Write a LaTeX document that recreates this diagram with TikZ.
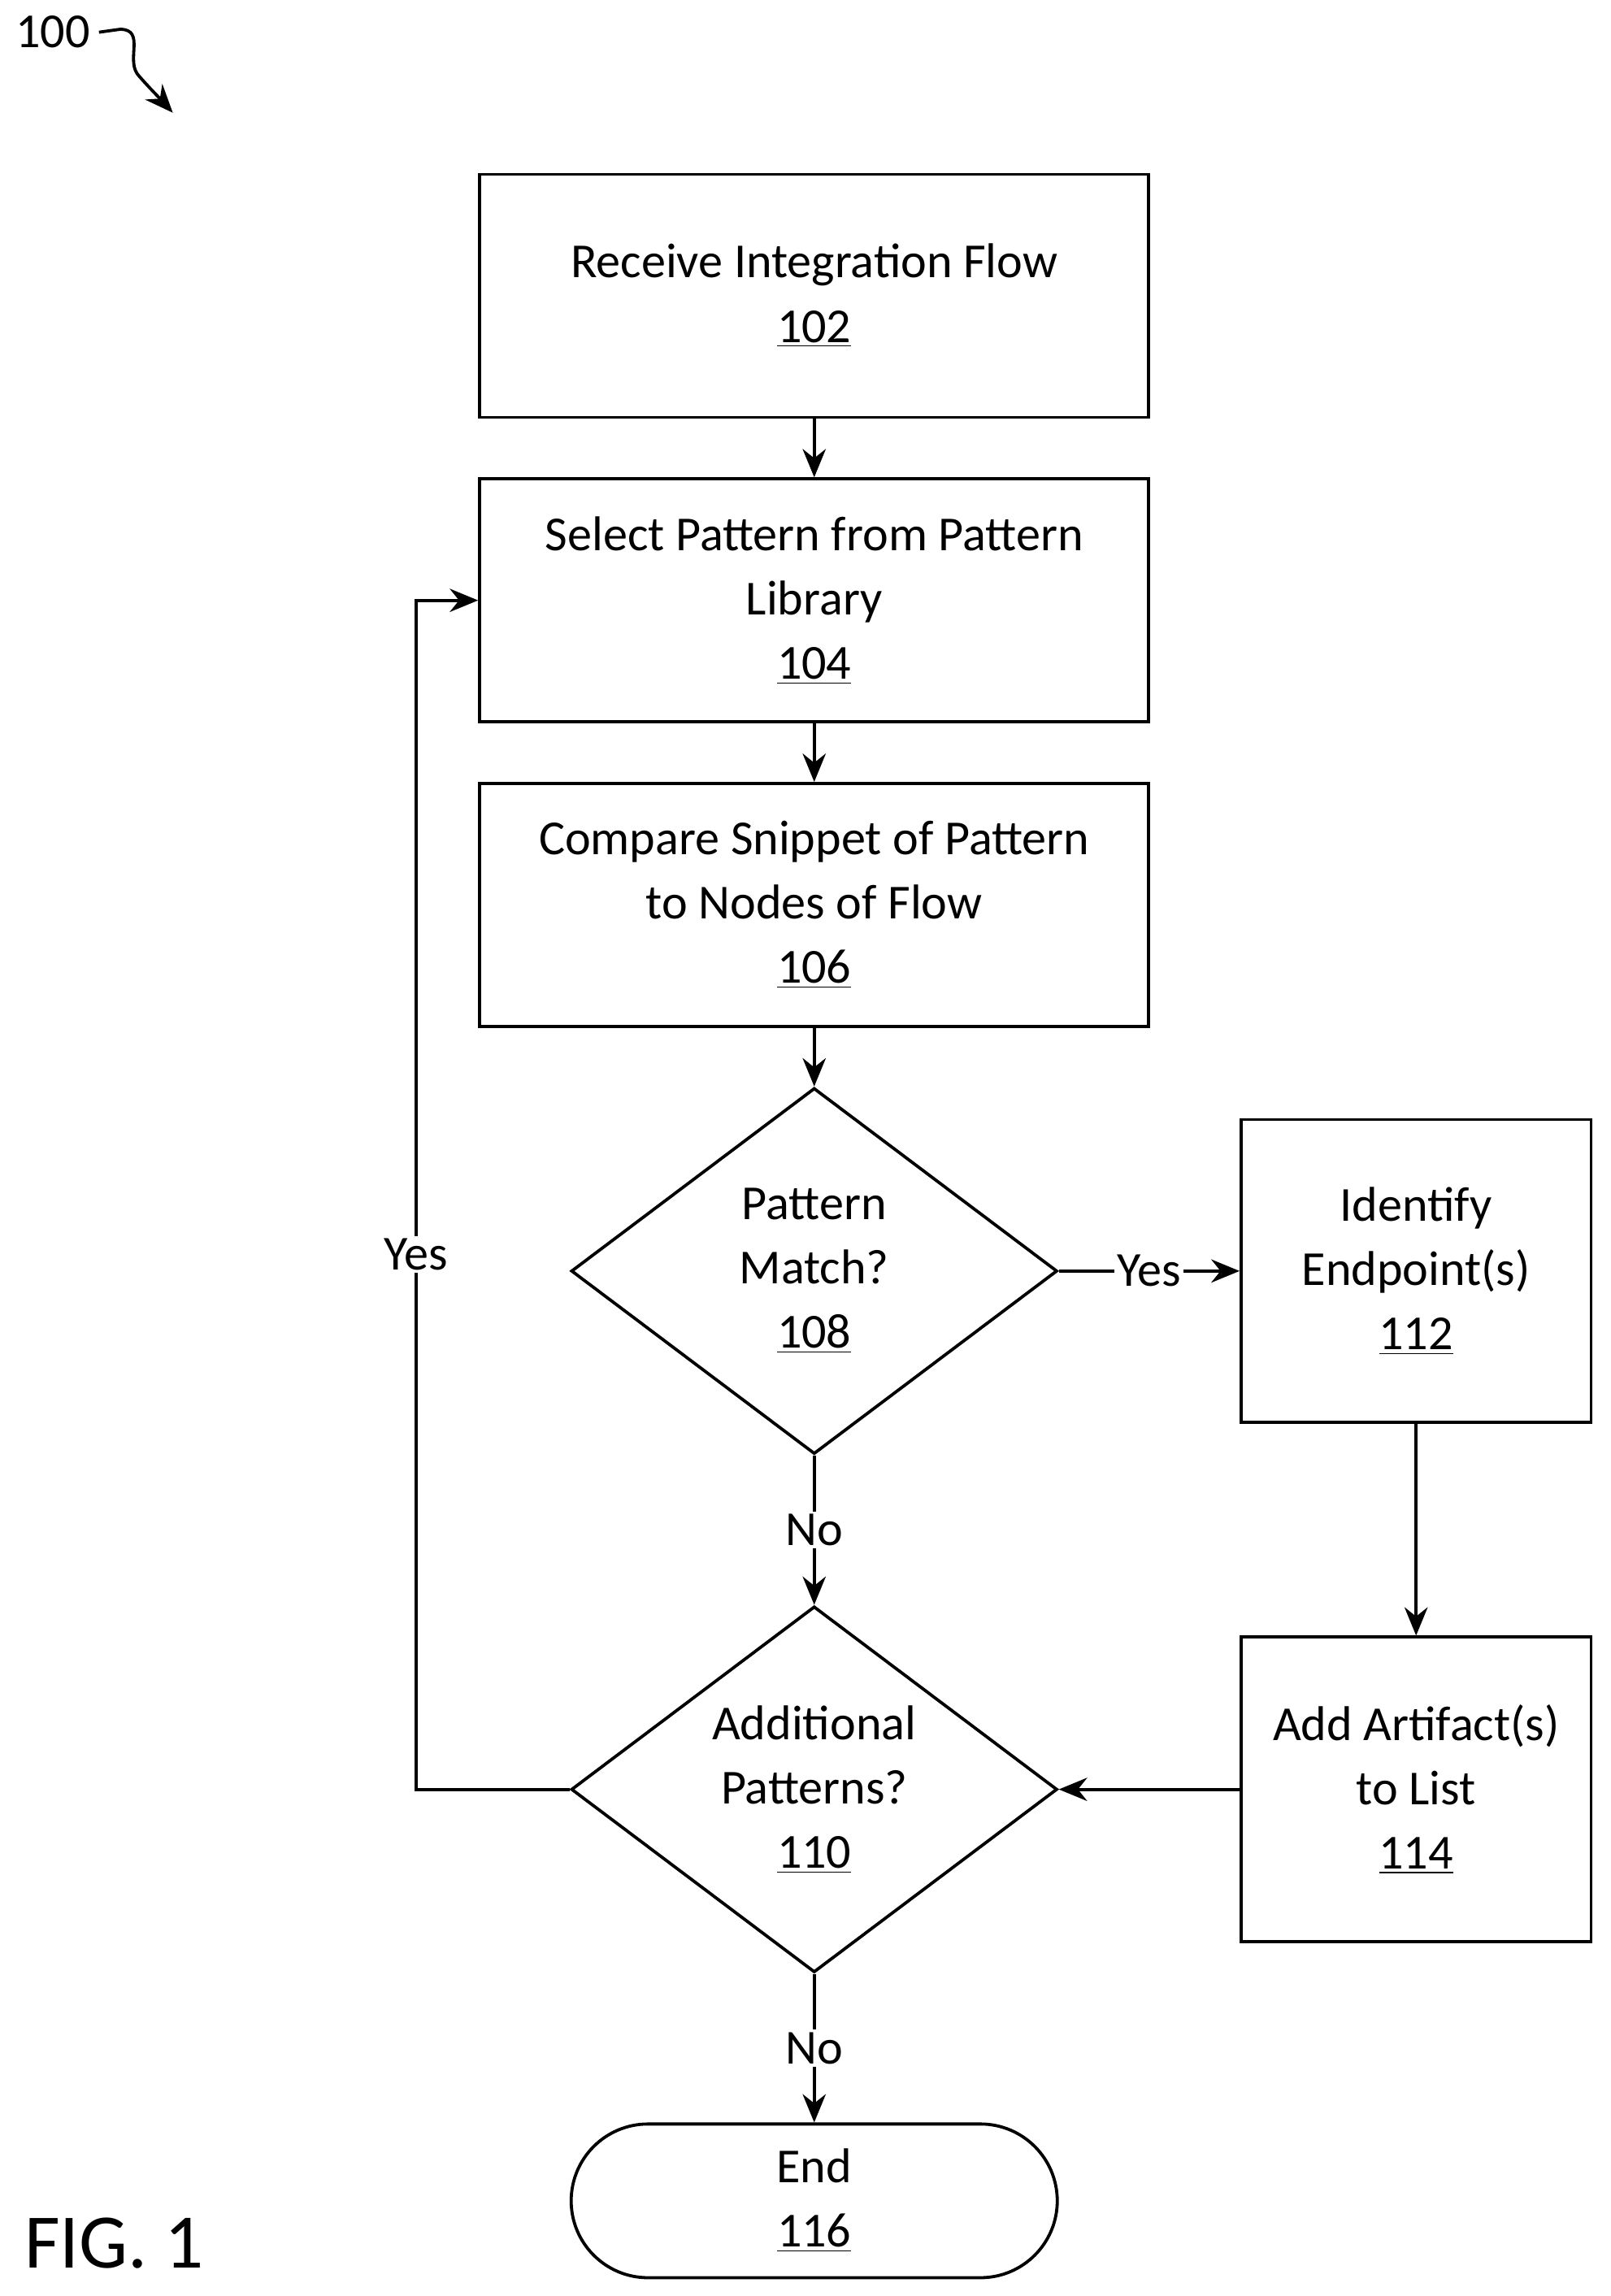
\documentclass[tikz,border=0pt]{standalone}
\usepackage{fontspec}
\setmainfont{Carlito}
\usetikzlibrary{shapes.geometric,arrows.meta}
\begin{document}
\begin{tikzpicture}[x=0.02cm,y=-0.02cm,
  every node/.style={font=\fontsize{19}{25}\selectfont,align=center},
  box/.style={draw,line width=1.2pt,rectangle,inner sep=0pt},
  dia/.style={draw,line width=1.2pt,diamond,inner sep=0pt,minimum width=6.64cm,minimum height=5cm},
  arr/.style={line width=1.2pt,-{Stealth[length=11pt,width=9pt]}},
  lbl/.style={fill=white,inner sep=1pt}]
\useasboundingbox (0,0) rectangle (1100,1568);
\node[box,minimum width=9.14cm,minimum height=3.32cm] (b102) at (556,202) {Receive Integration Flow\\\underline{102}};
\node[box,minimum width=9.14cm,minimum height=3.32cm] (b104) at (556,410) {Select Pattern from Pattern\\Library\\\underline{104}};
\node[box,minimum width=9.14cm,minimum height=3.32cm] (b106) at (556,618) {Compare Snippet of Pattern\\to Nodes of Flow\\\underline{106}};
\node[dia] (d108) at (556,868) {};
\node at (556,868) {Pattern\\Match?\\\underline{108}};
\node[box,minimum width=4.78cm,minimum height=4.14cm] (b112) at (967,868) {Identify\\Endpoint(s)\\\underline{112}};
\node[dia] (d110) at (556,1222) {};
\node at (556,1222) {Additional\\Patterns?\\\underline{110}};
\node[box,minimum width=4.78cm,minimum height=4.16cm] (b114) at (967,1222) {Add Artifact(s)\\to List\\\underline{114}};
\node[box,minimum width=6.64cm,minimum height=2.1cm,rounded corners=1.05cm] (e116) at (556,1503) {End\\\underline{116}};
\draw[arr] (b102) -- (b104);
\draw[arr] (b104) -- (b106);
\draw[arr] (b106) -- (d108);
\draw[arr] (d108.east) -- node[lbl]{Yes} (b112.west);
\draw[arr] (d108.south) -- node[lbl]{No} (d110.north);
\draw[arr] (b112) -- (b114);
\draw[arr] (b114.west) -- (d110.east);
\draw[arr] (d110.south) -- node[lbl]{No} (e116.north);
\coordinate (c1) at (284,1222);
\coordinate (c2) at (284,410);
\draw[arr] (d110.west) -- (c1) -- node[lbl,pos=0.45]{Yes} (c2) -- (b104.west);
\node[anchor=center] (l100) at (36,22) {100};
\coordinate (s1) at (118,77);
\draw[line width=1.2pt,-{Stealth[length=11pt,width=9pt]}] (l100.east) -- (82,20) .. controls (100,20) and (85,42) .. (95,52) .. controls (102,60) and (108,66) .. (s1);
\node[font=\fontsize{30}{36}\selectfont] (fig) at (78,1532) {FIG. 1};
\end{tikzpicture}
\end{document}
